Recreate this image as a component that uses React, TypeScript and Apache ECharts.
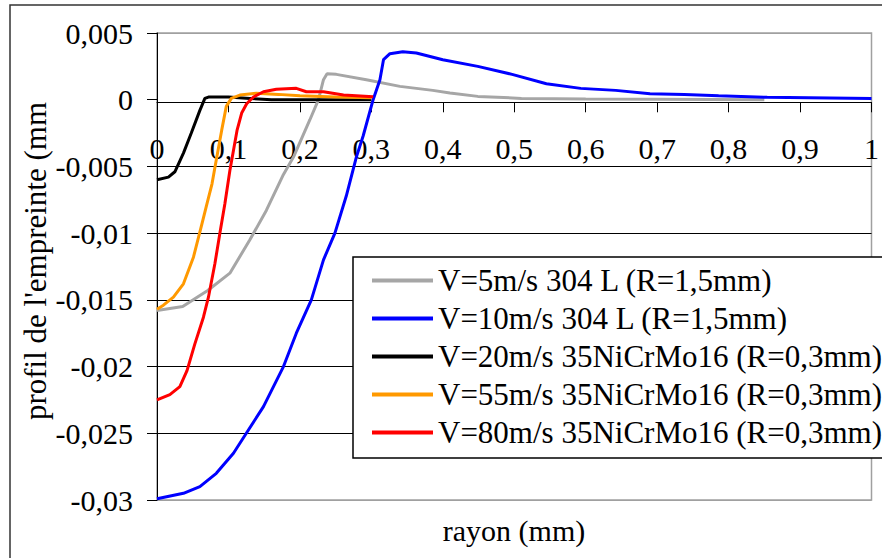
import React, { useEffect, useRef } from "react";
import * as echarts from "echarts";

const seriesNames = [
  "V=5m/s 304 L (R=1,5mm)",
  "V=10m/s 304 L (R=1,5mm)",
  "V=20m/s 35NiCrMo16 (R=0,3mm)",
  "V=55m/s 35NiCrMo16 (R=0,3mm)",
  "V=80m/s 35NiCrMo16 (R=0,3mm)",
];
const seriesColors = ["#a6a6a6", "#0000ff", "#000000", "#ff9900", "#ff0000"];

const r5 = [0, 0.036, 0.071, 0.102, 0.13, 0.153, 0.176, 0.191, 0.214, 0.226, 0.233, 0.238, 0.251, 0.293, 0.34, 0.386, 0.41, 0.449, 0.51, 0.6, 0.7, 0.85];
const v5 = [-0.0158, -0.0155, -0.0143, -0.013, -0.0105, -0.0083, -0.0057, -0.0043, -0.0015, 0, 0.0015, 0.00195, 0.0019, 0.0015, 0.001, 0.0007, 0.0005, 0.00025, 0.0001, 0.00005, 0.00003, 0];

const r10 = [0, 0.037, 0.06, 0.083, 0.107, 0.125, 0.149, 0.177, 0.195, 0.216, 0.233, 0.249, 0.265, 0.279, 0.2886, 0.3025, 0.312, 0.317, 0.326, 0.344, 0.363, 0.4, 0.449, 0.497, 0.545, 0.593, 0.642, 0.69, 0.738, 0.786, 0.854, 1.0];
const v10 = [-0.0299, -0.0295, -0.029, -0.028, -0.0265, -0.025, -0.023, -0.02, -0.0175, -0.015, -0.012, -0.01, -0.0072, -0.0043, -0.0027, 0, 0.0015, 0.003, 0.00345, 0.0036, 0.0035, 0.003, 0.0025, 0.0019, 0.0012, 0.00085, 0.0007, 0.00045, 0.0004, 0.0003, 0.00018, 0.0001];

const r20 = [0, 0.016, 0.025, 0.037, 0.048, 0.06, 0.067, 0.072, 0.1, 0.13, 0.16, 0.2, 0.25, 0.3];
const v20 = [-0.006, -0.0058, -0.0054, -0.004, -0.0025, -0.0008, 0.0001, 0.0002, 0.0002, 0.0001, 0, 0, 0, 0];

const r55 = [0, 0.009, 0.023, 0.037, 0.051, 0.062, 0.069, 0.077, 0.083, 0.0905, 0.097, 0.104, 0.116, 0.139, 0.17, 0.2, 0.25, 0.3];
const v55 = [-0.0157, -0.0154, -0.0148, -0.0138, -0.0118, -0.0095, -0.008, -0.0063, -0.0045, -0.0023, -0.0005, 0.0001, 0.00035, 0.00048, 0.0004, 0.0003, 0.0002, 0.00015];

const r80 = [0, 0.018, 0.032, 0.042, 0.053, 0.065, 0.072, 0.081, 0.088, 0.095, 0.102, 0.107, 0.112, 0.1185, 0.1255, 0.135, 0.149, 0.167, 0.195, 0.209, 0.233, 0.261, 0.3025];
const v80 = [-0.0225, -0.0221, -0.0215, -0.0203, -0.0183, -0.0163, -0.0148, -0.0123, -0.01, -0.0078, -0.0053, -0.0038, -0.0023, -0.001, -0.0003, 0.0002, 0.0006, 0.00078, 0.00085, 0.0006, 0.0006, 0.00035, 0.00022];

const radii = [r5, r10, r20, r55, r80];
const values = [v5, v10, v20, v55, v80];

const Y_MIN = -0.03;
const Y_MAX = 0.005;
const Y_STEP = 0.005;

const xTitle = "rayon (mm)";
const yTitle = "profil de l'empreinte (mm";

const FONT = "Liberation Serif";
const GRAY = "#a0a0a0";

const fmt = (v: number) => String(Number(v.toFixed(4))).replace(".", ",");

export default function App() {
  const ref = useRef<HTMLDivElement>(null);
  useEffect(() => {
    if (!ref.current) return;
    const chart = echarts.init(ref.current, undefined, { renderer: "svg" });
    const labelStyle = { fontFamily: FONT, fontSize: 30, color: "#000" };
    chart.setOption({
      animation: false,
      backgroundColor: "#fff",
      grid: {
        left: 157,
        right: 10,
        top: 33,
        bottom: 58,
        containLabel: false,
        show: true,
        borderColor: GRAY,
        borderWidth: 1.5,
        backgroundColor: "transparent",
      },
      legend: {
        orient: "vertical",
        left: 353,
        top: 257,
        padding: [8, 40, 10, 19],
        itemWidth: 61,
        itemHeight: 4,
        itemGap: 7,
        icon: "rect",
        backgroundColor: "#fff",
        borderColor: "#000",
        borderWidth: 1.5,
        borderRadius: 0,
        textStyle: { fontFamily: FONT, fontSize: 31, color: "#000", lineHeight: 31 },
        data: seriesNames,
      },
      graphic: [
        {
          type: "rect",
          silent: true,
          shape: { x: 10, y: 5, width: 900, height: 600 },
          style: { fill: "none", stroke: "#333", lineWidth: 1.5 },
        },
        {
          type: "text",
          silent: true,
          x: 514,
          y: 530,
          style: {
            text: xTitle,
            fontFamily: FONT,
            fontSize: 30,
            fill: "#000",
            align: "center",
            verticalAlign: "middle",
          },
        },
        {
          type: "text",
          silent: true,
          x: 35,
          y: 261,
          rotation: Math.PI / 2,
          style: {
            text: yTitle,
            fontFamily: FONT,
            fontSize: 31,
            fill: "#000",
            align: "center",
            verticalAlign: "middle",
          },
        },
      ],
      xAxis: [
        {
          type: "value",
          min: 0,
          max: 1,
          interval: 0.1,
          position: "bottom",
          offset: 0,
          axisLine: { onZero: false, lineStyle: { color: "#000", width: 1 } },
          axisTick: { show: true, length: 10, lineStyle: { color: "#000" } },
          axisLabel: { ...labelStyle, margin: 31, formatter: fmt },
          splitLine: { show: false },
        },
      ],
      yAxis: [
        {
          type: "value",
          min: Y_MIN,
          max: Y_MAX,
          interval: Y_STEP,
          position: "left",
          axisLine: { show: true, onZero: false, lineStyle: { color: "#000", width: 1 } },
          axisTick: { show: true, length: 10, lineStyle: { color: "#000" } },
          axisLabel: { ...labelStyle, margin: 24, formatter: fmt },
          splitLine: {
            show: true,
            lineStyle: {
              color: [GRAY, "#000", "#000", "#000", "#000", "#000", "rgba(0,0,0,0)", GRAY],
              width: 1,
            },
          },
        },
      ],
      series: seriesNames.map((name, i) => ({
        name,
        type: "line",
        showSymbol: false,
        symbol: "none",
        color: seriesColors[i],
        lineStyle: { color: seriesColors[i], width: 3 },
        data: radii[i].map((r, j) => [r, values[i][j]]),
      })),
    });
    // Move the x axis onto y = 0 using the library's own scale.
    const yZero = chart.convertToPixel({ yAxisIndex: 0 }, 0) as number;
    const yBottom = chart.convertToPixel({ yAxisIndex: 0 }, Y_MIN) as number;
    if (isFinite(yZero) && isFinite(yBottom)) {
      chart.setOption({ xAxis: [{ offset: yZero - yBottom }] });
    }
    return () => chart.dispose();
  }, []);
  return (
    <div
      ref={ref}
      style={{ position: "fixed", left: 0, top: 0, width: 882, height: 558 }}
    />
  );
}
